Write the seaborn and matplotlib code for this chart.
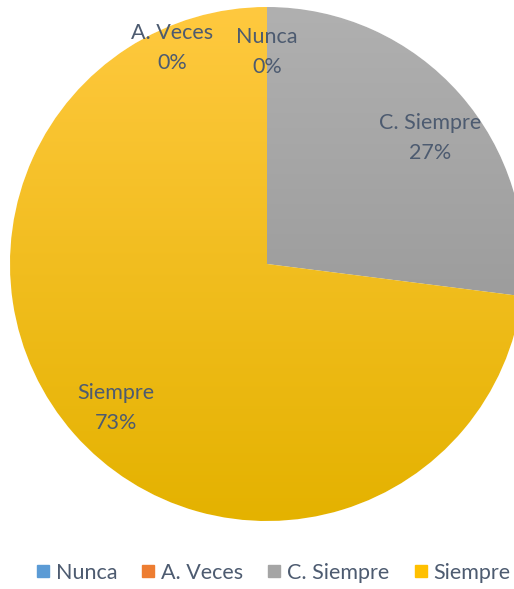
import matplotlib
matplotlib.use("Agg")
import matplotlib.pyplot as plt
import numpy as np
import seaborn as sns
from matplotlib.colors import LinearSegmentedColormap
from matplotlib.lines import Line2D

# ---------------------------------------------------------------------------
# Data
# ---------------------------------------------------------------------------
categories = ["Nunca", "A. Veces", "C. Siempre", "Siempre"]
values = [0, 0, 27, 73]
pct_labels = ["0%", "0%", "27%", "73%"]

# legend / base colours (Excel office palette)
base_colors = ["#5B9BD5", "#ED7D31", "#A5A5A5", "#FFC000"]
# top / bottom shades for the wedge gradients
grad_top = ["#6FA8DC", "#F4904A", "#B0B0B0", "#FFC93F"]
grad_bot = ["#4A88C2", "#D96A20", "#8E8E8E", "#E4B200"]

# label anchor points (pixel coords, origin top-left)
label_pos = [(267, 52), (172, 48), (430, 138), (116, 408)]

TEXT_COLOR = "#4D5B70"
FS = 15.5
W, H = 514, 589
CX, CY, R = 267, 264, 257

sns.set_theme(style="white")
plt.rcParams["font.family"] = ["Lato", "DejaVu Sans"]

fig = plt.figure(figsize=(W / 100, H / 100), dpi=100)
ax = fig.add_axes([0, 0, 1, 1])

wedges, _ = ax.pie(
    values,
    colors=sns.color_palette(base_colors),
    startangle=90,
    counterclock=False,
    center=(CX, H - CY),
    radius=R,
    frame=True,
)
ax.set_xlim(0, W)
ax.set_ylim(0, H)
ax.set_aspect("equal")
ax.axis("off")

# vertical gradient inside each wedge
grad = np.linspace(0, 1, 256).reshape(-1, 1)
extent = (CX - R, CX + R, H - CY - R, H - CY + R)
for w, c0, c1 in zip(wedges, grad_top, grad_bot):
    cmap = LinearSegmentedColormap.from_list("g", [c1, c0])
    im = ax.imshow(grad, cmap=cmap, extent=extent, origin="lower",
                   aspect="auto", zorder=w.get_zorder() + 0.1)
    im.set_clip_path(w)

for cat, pct, (x, y) in zip(categories, pct_labels, label_pos):
    ax.text(x, H - y, f"{cat}\n{pct}", ha="center", va="center",
            fontsize=FS, color=TEXT_COLOR, linespacing=1.6, zorder=5)

handles = [Line2D([], [], marker="s", linestyle="", markersize=9,
                  markerfacecolor=c, markeredgecolor=c) for c in base_colors]
fig.legend(handles, categories, loc="center", bbox_to_anchor=(0.529, 1 - 573 / H),
           ncol=4, frameon=False, fontsize=FS, handletextpad=0.15,
           columnspacing=1.0, labelcolor=TEXT_COLOR, handlelength=0.9)

fig.savefig("out.png", dpi=100)
